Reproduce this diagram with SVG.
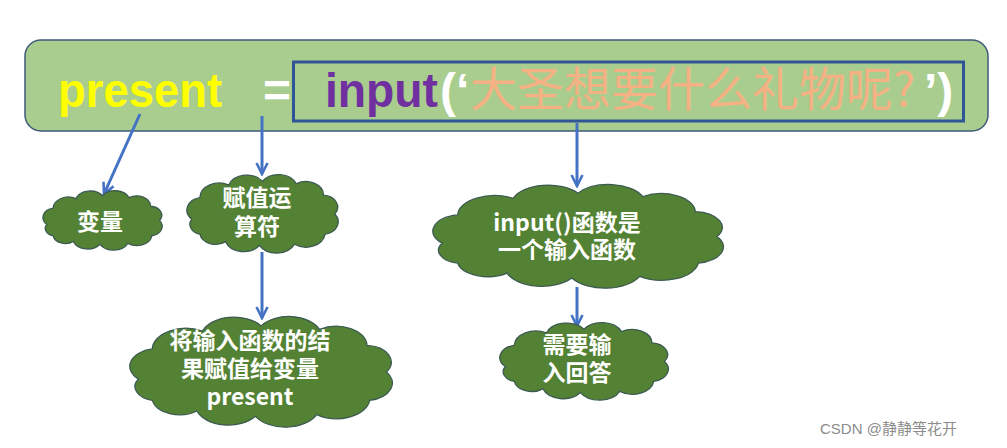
<svg xmlns="http://www.w3.org/2000/svg" xmlns:xlink="http://www.w3.org/1999/xlink" width="1007" height="448" viewBox="0 0 1007 448">
<style>
.cloud{fill:#548235;stroke:#3c5a50;stroke-width:1.3}
.ct{font-family:"Noto Sans CJK SC","Liberation Sans",sans-serif;font-weight:700;font-size:23px;fill:#ffffff;text-anchor:middle}
.big{font-family:"Liberation Sans","Noto Sans CJK SC",sans-serif;font-weight:700;font-size:48px}
.conn{stroke:#4472c4;stroke-width:3;fill:none;marker-end:url(#arr)}
</style>
<defs>
<path id="cloudShape" vector-effect="non-scaling-stroke" d="M12,70 A20,20 0 0 1 22,36 A24,24 0 0 1 58,16 A24,24 0 0 1 100,10 A24,24 0 0 1 142,14 A22,22 0 0 1 176,32 A19,19 0 0 1 190,62 A20,20 0 0 1 178,94 A24,24 0 0 1 140,110 A25,25 0 0 1 96,112 A24,24 0 0 1 54,106 A20,20 0 0 1 22,94 A16,16 0 0 1 12,70 Z"/>
<marker id="arr" viewBox="0 0 14 14" refX="12" refY="7" markerWidth="14" markerHeight="14" markerUnits="userSpaceOnUse" orient="auto">
<path d="M1,1.5 L12,7 L1,12.5" fill="none" stroke="#4472c4" stroke-width="2.6" stroke-linejoin="miter"/>
</marker>
</defs>
<rect width="1007" height="448" fill="#ffffff"/>

<g id="code">
<rect x="25" y="40" width="963" height="91" rx="16" ry="16" fill="#a9cd8e" stroke="#3e5a78" stroke-width="1.5"/>
<rect x="293.5" y="62" width="670" height="59" fill="none" stroke="#2f5597" stroke-width="3"/>
<text class="big" y="107"><tspan x="58" fill="#ffff00" textLength="164" lengthAdjust="spacingAndGlyphs">present</tspan><tspan x="263" fill="#ffffff">=</tspan><tspan x="325" fill="#7030a0" textLength="113" lengthAdjust="spacingAndGlyphs">input</tspan><tspan x="440" fill="#ffffff">(‘</tspan><tspan x="470" y="106" font-family="Noto Sans CJK SC, sans-serif" font-weight="400" font-size="47" fill="#f4b183">大圣想要什么礼物呢?</tspan><tspan x="924" y="107" fill="#ffffff">’)</tspan></text>
</g>

<g id="connectors">
<line class="conn" x1="140" y1="114" x2="104" y2="194"/>
<line class="conn" x1="262" y1="116" x2="262" y2="174"/>
<line class="conn" x1="577" y1="123" x2="577" y2="186"/>
<line class="conn" x1="262" y1="252" x2="262" y2="318"/>
<line class="conn" x1="577" y1="287" x2="577" y2="326"/>
</g>

<g id="node-var">
<use xlink:href="#cloudShape" class="cloud" transform="translate(39.2,191) scale(0.633,0.476)"/>
<text class="ct" x="100" y="230">变量</text>
</g>

<g id="node-assign">
<use xlink:href="#cloudShape" class="cloud" transform="translate(182.2,175) scale(0.803,0.629)"/>
<text class="ct" x="257" y="206">赋值运<tspan x="257" dy="29">算符</tspan></text>
</g>

<g id="node-result">
<use xlink:href="#cloudShape" class="cloud" transform="translate(121.6,317) scale(1.394,0.887)"/>
<text class="ct" x="250" y="349">将输入函数的结<tspan x="250" dy="28">果赋值给变量</tspan><tspan x="250" dy="28">present</tspan></text>
</g>

<g id="node-input">
<use xlink:href="#cloudShape" class="cloud" transform="translate(423.7,185) scale(1.543,0.831)"/>
<text class="ct" x="567" y="231">input()函数是<tspan x="567" dy="27">一个输入函数</tspan></text>
</g>

<g id="node-answer">
<use xlink:href="#cloudShape" class="cloud" transform="translate(494.6,323) scale(0.894,0.621)"/>
<text class="ct" x="577" y="353">需要输<tspan x="577" dy="28">入回答</tspan></text>
</g>

<text x="820" y="434" font-family="Liberation Sans, Noto Sans CJK SC, sans-serif" font-size="15" fill="#8c8c8c">CSDN @静静等花开</text>
</svg>
